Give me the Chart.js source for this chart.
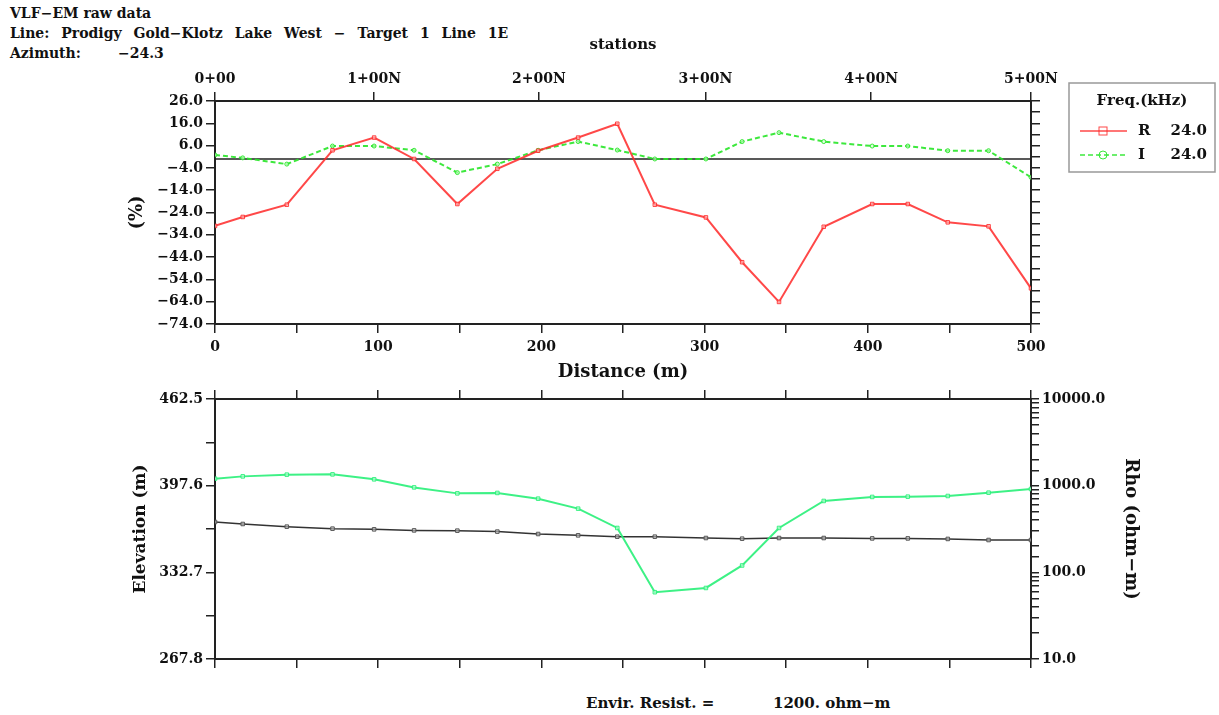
<!DOCTYPE html>
<html>
<head>
<meta charset="utf-8">
<script src="https://cdn.jsdelivr.net/npm/chart.js@4.4.1/dist/chart.umd.min.js"></script>
<style>
  body { margin: 0; background: #fff; width: 1219px; height: 715px; overflow: hidden; position: relative; }
  canvas { position: absolute; left: 0; }
  .txt { position: absolute; font-family: "DejaVu Serif", serif; font-weight: bold; font-size: 14px; color: #111; white-space: pre; }
</style>
</head>
<body>
<div class="txt" style="left:10px;top:5px;">VLF−EM raw data</div>
<div class="txt" style="left:10px;top:25px;word-spacing:7px;">Line: Prodigy Gold−Klotz Lake West − Target 1 Line 1E</div>
<div class="txt" style="left:10px;top:45px;">Azimuth:</div>
<div class="txt" style="left:118px;top:45px;">−24.3</div>
<div class="txt" style="left:586px;top:694px;font-size:15px;">Envir. Resist. =</div>
<div class="txt" style="left:773px;top:694px;font-size:15px;">1200. ohm−m</div>
<canvas id="top" width="1219" height="385" style="top:0"></canvas>
<canvas id="bottom" width="1219" height="340" style="top:375px"></canvas>
<script>
// distances of the readings along the line (m)
var distances = [0, 17, 44, 72, 97.5, 122, 148.5, 173, 198, 222.5, 246.5, 269.5, 300.8, 323, 345.6, 373, 402.7, 424.5, 449, 474, 500];
// in-phase (R) and quadrature (I) at 24.0 kHz, %
var realPct = [-30, -26, -20.5, 3.9, 9.6, 0, -20.2, -4.4, 3.7, 9.6, 15.8, -20.5, -26.2, -46.3, -64.1, -30.4, -20.2, -20.2, -28.4, -30.2, -58];
var imagPct = [1.8, 0.5, -2.3, 5.8, 5.8, 3.9, -6.1, -2.3, 3.9, 7.8, 4, 0, 0, 7.8, 11.8, 7.8, 5.8, 5.8, 3.7, 3.7, -8.2];
// elevation (m) and apparent resistivity (ohm-m)
var elevation = [370.4, 368.9, 366.9, 365.4, 364.9, 364.1, 363.9, 363.2, 361.4, 360.4, 359.4, 359.4, 358.4, 357.9, 358.4, 358.4, 358.1, 358.1, 357.7, 356.9, 356.9];
var rho = [1205, 1280, 1340, 1350, 1183, 955, 815, 824, 708, 543, 325, 59, 66, 120, 325, 666, 741, 747, 760, 830, 916];
// station tick positions and labels (top axis)
var stationPos = [0, 97.5, 198.5, 300.5, 402, 500];
var stationLabels = ['0+00', '1+00N', '2+00N', '3+00N', '4+00N', '5+00N'];
var freqLabel = '24.0';
// elevation axis ticks
var elevTicks = [267.8, 332.7, 397.6, 462.5];

var FONT = 'DejaVu Serif';
var INK = '#222';
var redCol = 'rgba(255, 40, 40, 0.85)';
var greenCol = 'rgba(40, 230, 40, 0.9)';
var rhoCol = 'rgba(40, 240, 120, 0.9)';
var tickFont = { family: FONT, size: 14, weight: 'bold' };

function pts(ys) {
    return distances.map(function(d, i) { return { x: d, y: ys[i] }; });
}

function fixed(size, horiz) {
    return function(scale) {
        if (horiz) scale.height = size; else scale.width = size;
    };
}

function baseAxis(extra) {
    var a = {
        grid: { display: true, drawOnChartArea: false, drawTicks: true, tickLength: 9, color: INK, lineWidth: 1.5 },
        border: { display: true, color: INK, width: 2 },
        ticks: { color: '#111', font: tickFont, padding: 3 }
    };
    return Object.assign(a, extra);
}

Chart.defaults.font.family = FONT;
Chart.defaults.animation = false;

var legendPlugin = {
    id: 'freqLegend',
    afterDraw: function(chart) {
        var c = chart.ctx;
        c.save();
        c.strokeStyle = '#999';
        c.lineWidth = 1.5;
        c.strokeRect(1069, 83, 146, 89);
        c.fillStyle = '#111';
        c.font = 'bold 15px ' + FONT;
        c.textAlign = 'center';
        c.textBaseline = 'middle';
        c.fillText('Freq.(kHz)', 1142, 101);
        var rows = [chart.data.datasets[0], chart.data.datasets[1]];
        rows.forEach(function(ds, i) {
            var y = 131 + i * 24;
            c.strokeStyle = ds.borderColor;
            c.lineWidth = 1.5;
            c.setLineDash(ds.borderDash || []);
            c.beginPath(); c.moveTo(1080, y); c.lineTo(1127, y); c.stroke();
            c.setLineDash([]);
            c.lineWidth = 1;
            if (i === 0) {
                c.strokeRect(1099, y - 4, 8, 8);
            } else {
                c.beginPath(); c.arc(1103, y, 4, 0, Math.PI * 2); c.stroke();
            }
            c.fillStyle = '#111';
            c.textAlign = 'left';
            c.fillText(ds.label, 1138, y);
            c.textAlign = 'right';
            c.fillText(freqLabel, 1207, y);
        });
        c.restore();
    }
};

new Chart(document.getElementById('top'), {
    type: 'line',
    data: {
        datasets: [{
            label: 'R',
            data: pts(realPct),
            borderColor: redCol,
            borderWidth: 2,
            pointStyle: 'rect',
            pointRadius: 2.5,
            pointBorderColor: redCol,
            pointBackgroundColor: 'rgba(255,200,200,0.6)',
            pointBorderWidth: 1
        }, {
            label: 'I',
            data: pts(imagPct),
            borderColor: greenCol,
            borderWidth: 2,
            borderDash: [5, 3],
            pointStyle: 'circle',
            pointRadius: 2,
            pointBorderColor: greenCol,
            pointBackgroundColor: 'rgba(200,255,200,0.6)',
            pointBorderWidth: 1
        }, {
            label: 'zero',
            data: [{ x: 0, y: 0 }, { x: 500, y: 0 }],
            borderColor: INK,
            borderWidth: 1.5,
            pointRadius: 0
        }]
    },
    options: {
        responsive: false,
        layout: { padding: { left: 120, right: 0, top: 30, bottom: 0 } },
        plugins: { legend: { display: false }, tooltip: { enabled: false } },
        scales: {
            x: baseAxis({
                type: 'linear', position: 'bottom', min: 0, max: 500,
                afterFit: fixed(61, true),
                ticks: {
                    stepSize: 50, color: '#111', font: tickFont, padding: 6, maxRotation: 0,
                    callback: function(v) { return v % 100 === 0 ? String(v) : ''; }
                },
                title: { display: true, text: 'Distance (m)', color: '#111', font: { family: FONT, size: 18, weight: 'bold' }, padding: 2 }
            }),
            xTop: baseAxis({
                type: 'linear', position: 'top', min: 0, max: 500,
                afterFit: fixed(71, true),
                afterBuildTicks: function(scale) {
                    scale.ticks = stationPos.map(function(v) { return { value: v }; });
                },
                ticks: {
                    color: '#111', font: tickFont, padding: 4, maxRotation: 0, autoSkip: false,
                    callback: function(v, i) { return stationLabels[i]; }
                },
                title: { display: true, text: 'stations', color: '#111', font: { family: FONT, size: 15, weight: 'bold' }, padding: { top: 6, bottom: 0 } }
            }),
            y: baseAxis({
                type: 'linear', position: 'left', min: -74, max: 26,
                afterFit: fixed(95, false),
                ticks: {
                    stepSize: 5, color: '#111', font: tickFont, padding: 3,
                    callback: function(v) { return Math.round(26 - v) % 10 === 0 ? v.toFixed(1).replace('-', '−') : ''; }
                },
                title: { display: true, text: '(%)', color: '#111', font: { family: FONT, size: 18, weight: 'bold' }, padding: { top: 7, bottom: 0 } }
            }),
            yRight: baseAxis({
                type: 'linear', position: 'right', min: -74, max: 26,
                afterFit: fixed(188, false),
                ticks: { stepSize: 5, display: false }
            })
        }
    },
    plugins: [legendPlugin]
});

new Chart(document.getElementById('bottom'), {
    type: 'line',
    data: {
        datasets: [{
            label: 'Rho',
            data: pts(rho),
            yAxisID: 'yRho',
            borderColor: rhoCol,
            borderWidth: 2,
            pointStyle: 'rect',
            pointRadius: 2.5,
            pointBorderColor: rhoCol,
            pointBackgroundColor: 'rgba(200,255,220,0.6)',
            pointBorderWidth: 1
        }, {
            label: 'Elevation',
            data: pts(elevation),
            yAxisID: 'y',
            borderColor: '#333',
            borderWidth: 1.5,
            pointStyle: 'rect',
            pointRadius: 2.5,
            pointBorderColor: '#555',
            pointBackgroundColor: 'rgba(200,200,200,0.6)',
            pointBorderWidth: 1
        }]
    },
    options: {
        responsive: false,
        layout: { padding: { left: 120, right: 78, top: 0, bottom: 0 } },
        plugins: { legend: { display: false }, tooltip: { enabled: false } },
        scales: {
            x: baseAxis({
                type: 'linear', position: 'bottom', min: 0, max: 500,
                afterFit: fixed(56, true),
                ticks: { stepSize: 50, display: false }
            }),
            xTop: baseAxis({
                type: 'linear', position: 'top', min: 0, max: 500,
                afterFit: fixed(24, true),
                ticks: { stepSize: 50, display: false }
            }),
            y: baseAxis({
                type: 'linear', position: 'left', min: elevTicks[0], max: elevTicks[elevTicks.length - 1],
                afterFit: fixed(95, false),
                ticks: {
                    stepSize: (elevTicks[1] - elevTicks[0]) / 2, color: '#111', font: tickFont, padding: 3,
                    callback: function(v, i) { return i % 2 === 0 ? v.toFixed(1) : ''; }
                },
                title: { display: true, text: 'Elevation (m)', color: '#111', font: { family: FONT, size: 17, weight: 'bold' }, padding: { top: 10, bottom: 0 } }
            }),
            yRho: baseAxis({
                type: 'logarithmic', position: 'right', min: 10, max: 10000,
                afterFit: fixed(110, false),
                grid: { display: true, drawOnChartArea: false, drawTicks: true, tickLength: 8, color: INK, lineWidth: 1.5 },
                ticks: {
                    color: '#111', font: tickFont, padding: 3, autoSkip: false,
                    callback: function(v) {
                        var l = Math.log10(v);
                        return Math.abs(l - Math.round(l)) < 1e-9 ? v.toFixed(1) : '';
                    }
                },
                title: { display: true, text: 'Rho (ohm−m)', color: '#111', font: { family: FONT, size: 18, weight: 'bold' }, padding: { top: 0, bottom: 0 } }
            })
        }
    }
});
</script>
</body>
</html>
